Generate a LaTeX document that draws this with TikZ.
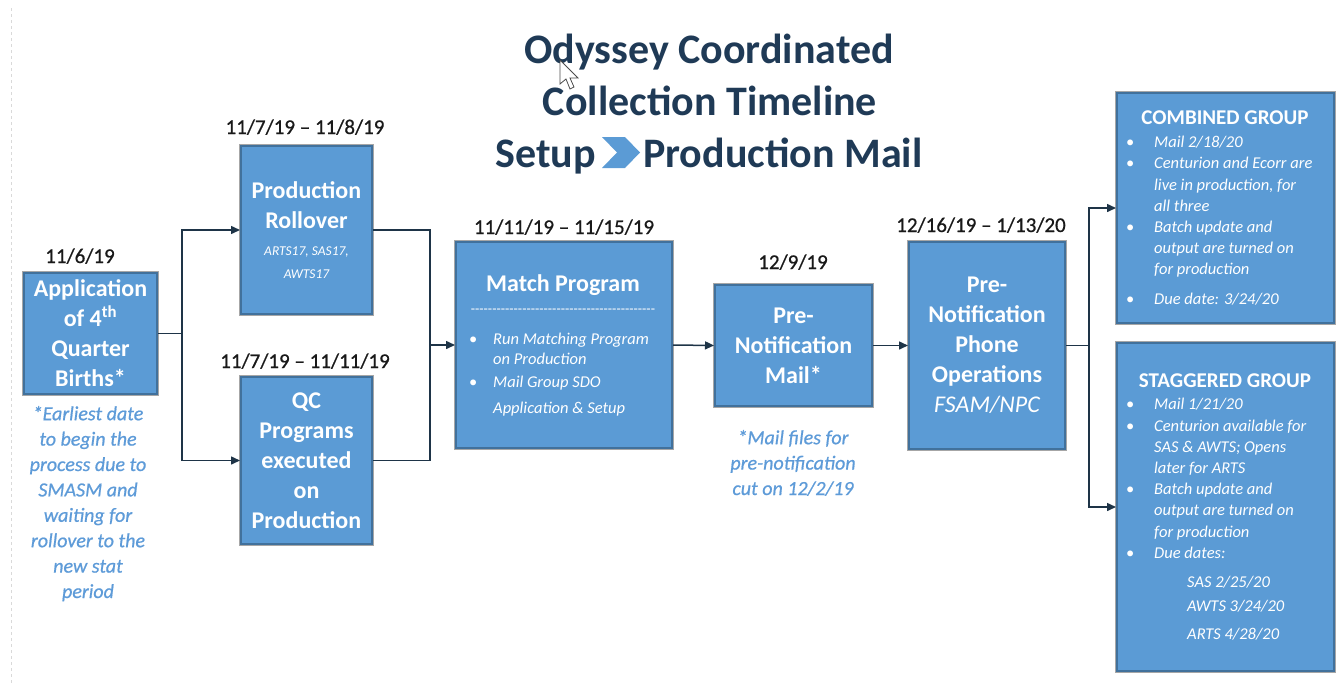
\documentclass[tikz,border=0pt]{standalone}
\usepackage{fontspec}
\setmainfont{Carlito}
\newfontfamily\datefont[FakeBold=0.7,Ligatures=TeX]{Carlito}
\usetikzlibrary{arrows.meta,positioning}

\definecolor{boxblue}{HTML}{5B9BD5}
\definecolor{boxedge}{HTML}{41719C}
\definecolor{navy}{HTML}{1F3A56}
\definecolor{notecol}{HTML}{5E9BD8}
\definecolor{linkcol}{HTML}{1E3447}

% bullet with fixed indent
\newcommand{\bul}[1][28pt]{\makebox[#1][l]{\upshape\textbullet}}
\newcommand{\fs}[2]{\fontsize{#1}{#2}\selectfont}

\begin{document}
\begin{tikzpicture}[x=1pt,y=-1pt,
  box/.style={rectangle, fill=boxblue, draw=boxedge, line width=2pt,
    preaction={draw=black!35, line width=3.6pt}, text=white, align=center,
    font=\fs{24}{30}\bfseries, inner sep=0pt},
  sz/.style 2 args={minimum width=#1, minimum height=#2},
  title/.style={anchor=base, text=navy, font=\fs{42}{52}\bfseries},
  date/.style={anchor=base, text=black!90, font=\datefont\fs{21}{25}},
  note/.style={anchor=base, text=notecol, align=center, font=\datefont\fs{20}{25.4}\itshape},
  head/.style={anchor=base, text=white, font=\fs{21}{25}\bfseries},
  list/.style={anchor=base west, text=white, align=left, inner sep=0pt,
    font=\fs{16.5}{21.2}\itshape},
  link/.style={draw=linkcol, line width=1.5pt},
  arr/.style={link, -{Triangle[length=9pt,width=8pt]}},
]
  \useasboundingbox (0,0) rectangle (1336,683);
  \draw[dashed, gray!30] (11,8) -- (11,683);

  %--- title
  \node[title] (t1) at (709,63) {Odyssey Coordinated};
  \node[title] (t2) at (710,115) {Collection Timeline};
  \node[title, anchor=base east, inner sep=0pt] (t3a) at (596,167) {Setup};
  \node[title, anchor=base west, inner sep=0pt] (t3b) at (643,167) {Production Mail};
  \fill[boxblue] (602,137) -- (625,137) -- (640,152.5) -- (625,168) -- (602,168)
    -- (617,152.5) -- cycle;
  % mouse pointer
  \filldraw[fill=white, draw=black!70, line width=0.8pt] (560,60) -- (560,84)
    -- (566,79) -- (570,89) -- (574,87) -- (570,78) -- (578,78) -- cycle;

  %--- boxes
  \node[box, sz={133pt}{121pt}] (b1) at (90.5,333.5)
    {Application\\of 4\textsuperscript{th}\\Quarter\\Births*};
  \node[box, sz={131pt}{168pt}] (b2) at (306.5,230)
    {Production\\Rollover\\[-3pt]{\fs{13.5}{23}\mdseries\itshape ARTS17, SAS17,}\\[-7pt]
     {\fs{13.5}{23}\mdseries\itshape AWTS17}};
  \node[box, sz={131pt}{167pt}] (b3) at (306.5,460.5)
    {QC\\Programs\\executed\\on\\Production};
  \node[box, sz={216pt}{206pt}] (b4) at (564,345) {};
  \node[box, sz={157pt}{121pt}] (b5) at (793.5,345.5)
    {Pre-\\Notification\\Mail*};
  \node[box, sz={156pt}{207pt}] (b6) at (987,345.5)
    {Pre-\\Notification\\Phone\\Operations\\{\mdseries\itshape FSAM/NPC}};
  \node[box, sz={217pt}{230pt}] (b7) at (1225.5,208) {};
  \node[box, sz={217pt}{328pt}] (b8) at (1225.5,507) {};

  %--- match program text (base = last line)
  \node[head, font=\fs{24}{30}\bfseries] (b4head) at (563,291) {Match Program};
  \node[anchor=base, text=white, font=\fs{14}{16}] (b4rule) at (563,313)
    {\foreach \i in {1,...,43}{-}};
  \node[list, font=\fs{16.5}{20}\itshape] (b4list) at (469,413)
    {\bul[24pt]Run Matching Program\\
     \hspace*{24pt}on Production\\[3pt]
     \bul[24pt]Mail Group SDO\\[6pt]
     \hspace*{24pt}Application \& Setup};

  %--- group texts
  \node[head] (b7head) at (1225,124) {COMBINED GROUP};
  \node[list] (b7list) at (1126,304)
    {\bul Mail 2/18/20\\
     \bul Centurion and Ecorr are\\
     \hspace*{28pt}live in production, for\\
     \hspace*{28pt}all three\\
     \bul Batch update and\\
     \hspace*{28pt}output are turned on\\
     \hspace*{28pt}for production\\[8pt]
     \bul Due date: 3/24/20};
  \node[head] (b8head) at (1225,387) {STAGGERED GROUP};
  \node[list] (b8list) at (1126,639)
    {\bul Mail 1/21/20\\
     \bul Centurion available for\\
     \hspace*{28pt}SAS \& AWTS; Opens\\
     \hspace*{28pt}later for ARTS\\
     \bul Batch update and\\
     \hspace*{28pt}output are turned on\\
     \hspace*{28pt}for production\\
     \bul Due dates:\\[7.7pt]
     \hspace*{61pt}SAS 2/25/20\\[2.7pt]
     \hspace*{61pt}AWTS 3/24/20\\[6.7pt]
     \hspace*{61pt}ARTS 4/28/20};

  %--- dates
  \node[date] (d1) at (80,263) {11/6/19};
  \node[date] (d2) at (305,134) {11/7/19 -- 11/8/19};
  \node[date] (d3) at (305,368) {11/7/19 -- 11/11/19};
  \node[date] (d4) at (564,234) {11/11/19 -- 11/15/19};
  \node[date] (d5) at (793,269) {12/9/19};
  \node[date] (d6) at (981,232) {12/16/19 -- 1/13/20};

  %--- notes (base = last line)
  \node[note] (n1) at (88,598) {*Earliest date\\to begin the\\process due to\\SMASM and\\waiting for\\rollover to the\\new stat\\period};
  \node[note] (n5) at (793,495) {*Mail files for\\pre-notification\\cut on 12/2/19};

  %--- connectors
  \coordinate (j1) at (182,333.5);
  \coordinate (j2) at (430,345);
  \coordinate (j6) at (1089,345.5);
  \draw[link] (b1.east) -- (j1);
  \draw[arr] (j1) |- (b2.west);
  \draw[arr] (j1) |- (b3.west);
  \draw[link] (b2.east) -| (j2) |- (b3.east);
  \draw[arr] (j2) -- (b4.west);
  \draw[arr] (b4.east) -- (b5.west);
  \draw[arr] (b5.east) -- (b6.west);
  \draw[link] (b6.east) -- (j6);
  \draw[arr] (j6) |- (b7.west);
  \draw[arr] (j6) |- (b8.west);
\end{tikzpicture}
\end{document}
